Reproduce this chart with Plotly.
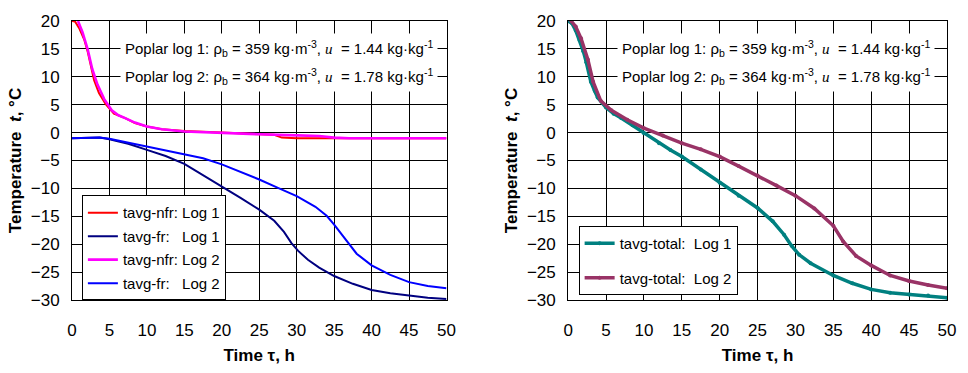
import plotly.graph_objects as go
from plotly.subplots import make_subplots

# Left panel: non-frozen (nfr) and frozen (fr) zone average temperatures
t_nfr1 = [0, 0.4, 1.0, 1.65, 2.1, 2.5, 2.95, 3.6, 4.5, 5.6, 7.1, 8.4, 10, 12, 15, 20, 25, 27, 28, 30, 35, 40, 45, 50]
T_nfr1 = [20, 19.9, 18.6, 16.6, 14.5, 12.0, 9.4, 7.1, 5.1, 3.4, 2.6, 1.7, 1.1, 0.6, 0.3, 0.0, -0.2, -0.4, -0.9, -1.0, -1.0, -1.0, -1.0, -1.0]

t_fr1 = [0, 2, 3.7, 5, 7.5, 10, 12.5, 15, 17.5, 20, 22.5, 25, 27, 28.3, 29.3, 30.2, 31.5, 33, 35, 37.5, 40, 42.5, 45, 47.5, 50]
T_fr1 = [-1.0, -1.0, -0.9, -1.2, -2.0, -3.1, -4.2, -5.6, -7.6, -9.7, -11.7, -13.8, -15.8, -17.8, -19.8, -21.2, -22.8, -24.2, -25.7, -27.1, -28.2, -28.8, -29.2, -29.6, -29.8]

t_nfr2 = [0.8, 1.4, 2.1, 2.7, 3.4, 4.3, 5.3, 6.2, 7.1, 8.4, 10, 12, 15, 20, 25, 30, 33, 35, 37, 40, 45, 50]
T_nfr2 = [20, 18.0, 14.9, 11.4, 8.6, 6.0, 4.0, 3.1, 2.6, 1.8, 1.1, 0.6, 0.2, -0.1, -0.3, -0.5, -0.6, -0.9, -1.0, -1.0, -1.0, -1.0]

t_fr2 = [0, 3.7, 5, 7.5, 10, 12.5, 15, 17.5, 20, 22.5, 25, 27.5, 30, 32.5, 34, 35, 36, 37, 38, 40, 42.5, 45, 47.5, 50]
T_fr2 = [-1.0, -0.9, -1.1, -1.8, -2.4, -3.1, -3.8, -4.6, -5.7, -7.0, -8.4, -9.9, -11.4, -13.3, -14.9, -16.5, -18.2, -20.0, -21.7, -23.8, -25.5, -26.8, -27.5, -27.9]

# Right panel: whole-log average temperatures
t_tot1 = [0, 0.5, 1, 1.5, 2, 2.4, 3, 3.5, 3.9, 5, 6, 7, 8.5, 10, 12, 13.5, 15, 17.5, 20, 22.5, 25, 27, 28.5, 29.5, 30.5, 32, 35, 37.5, 40, 42.5, 45, 47.5, 50]
T_tot1 = [20, 19.6, 18.3, 16.6, 14.6, 12.6, 9.1, 7.5, 6.3, 4.5, 3.4, 2.6, 1.3, -0.1, -1.9, -3.1, -4.3, -6.6, -9.0, -11.3, -13.5, -15.9, -18.3, -20.3, -21.9, -23.4, -25.6, -27.0, -28.1, -28.7, -29.0, -29.2, -29.6]

t_tot2 = [0.4, 1, 1.7, 2.6, 3.3, 4.3, 5.7, 7.8, 10, 12.5, 15, 17.5, 20, 22.5, 25, 27.5, 30, 32.5, 35, 36.3, 38, 40, 42.5, 45, 47.5, 50]
T_tot2 = [20, 19.0, 16.9, 13.1, 9.1, 5.7, 4.0, 2.3, 0.8, -0.5, -1.9, -3.0, -4.3, -6.0, -7.7, -9.5, -11.3, -13.6, -16.7, -19.5, -22.1, -23.8, -25.6, -26.6, -27.3, -27.9]

x_ticks = [0, 5, 10, 15, 20, 25, 30, 35, 40, 45, 50]
y_ticks = [20, 15, 10, 5, 0, -5, -10, -15, -20, -25, -30]

info_lines = [
    "Poplar log 1: ρ<sub>b</sub> = 359 kg·m<sup>-3</sup>, "
    "<span style=\"font-family:'Liberation Serif'\"><i>u</i></span>  = 1.44 kg·kg<sup>-1</sup>",
    "Poplar log 2: ρ<sub>b</sub> = 364 kg·m<sup>-3</sup>, "
    "<span style=\"font-family:'Liberation Serif'\"><i>u</i></span>  = 1.78 kg·kg<sup>-1</sup>",
]

FONT = "Liberation Sans, Arial, sans-serif"
NB = "\u00a0"

fig = make_subplots(rows=1, cols=2, horizontal_spacing=0.1)

left_series = [
    ("tavg-nfr: Log 1", t_nfr1, T_nfr1, "#FF0000", 2),
    ("tavg-fr:" + NB * 3 + "Log 1", t_fr1, T_fr1, "#000080", 2),
    ("tavg-nfr: Log 2", t_nfr2, T_nfr2, "#FF00FF", 2.6),
    ("tavg-fr:" + NB * 3 + "Log 2", t_fr2, T_fr2, "#0000FF", 2),
]
for i, (name, tx, ty, col, w) in enumerate(left_series):
    fig.add_trace(go.Scatter(x=tx, y=ty, name=name, mode="lines",
                             line=dict(color=col, width=w),
                             legend="legend", legendgroup=f"l{i}"),
                  row=1, col=1)

right_series = [
    ("tavg-total:" + NB + " Log 1", t_tot1, T_tot1, "#008080"),
    ("tavg-total:" + NB + " Log 2", t_tot2, T_tot2, "#993366"),
]
for i, (name, tx, ty, col) in enumerate(right_series):
    fig.add_trace(go.Scatter(x=tx, y=ty, name=name, mode="lines+markers",
                             line=dict(color=col, width=3.5),
                             marker=dict(color=col, size=4),
                             legend="legend2", legendgroup=f"r{i}"),
                  row=1, col=2)

axis_common = dict(
    showline=True, linecolor="black", linewidth=1, mirror=True,
    showgrid=True, gridcolor="black", gridwidth=1, zeroline=False,
    ticks="", tickfont=dict(family=FONT, size=17, color="black"),
)
for c in (1, 2):
    fig.update_xaxes(range=[0, 50], tickvals=x_ticks, ticklabelstandoff=15,
                     title=dict(text="<b>Time τ, h</b>", standoff=9,
                                font=dict(family=FONT, size=17, color="black")),
                     row=1, col=c, **axis_common)
    fig.update_yaxes(range=[-30, 20], tickvals=y_ticks, ticklabelstandoff=8,
                     title=dict(text="<b>Temperature" + NB + NB + "<i>t</i>, °C</b>", standoff=4,
                                font=dict(family=FONT, size=17, color="black")),
                     row=1, col=c, **axis_common)

fig.update_layout(
    width=968, height=373,
    margin=dict(l=72, r=13, t=13, b=69),
    paper_bgcolor="white", plot_bgcolor="white",
    font=dict(family=FONT, color="black"),
    xaxis=dict(domain=[0, 0.428]),
    xaxis2=dict(domain=[0.567, 1.0]),
    legend=dict(x=0.0113, y=0.375, xanchor="left", yanchor="top",
                bgcolor="white", bordercolor="black", borderwidth=1,
                font=dict(family=FONT, size=15, color="black"),
                tracegroupgap=1, itemwidth=30),
    legend2=dict(x=0.579, y=0.265, xanchor="left", yanchor="top",
                 bgcolor="white", bordercolor="black", borderwidth=1,
                 font=dict(family=FONT, size=15, color="black"),
                 tracegroupgap=12, itemwidth=30),
)

# Sample description boxes drawn over the grid in each panel
for xr, yr, xc in (("x", "y", 27.6), ("x2", "y2", 27.4)):
    for text, yv in zip(info_lines, (15, 10)):
        fig.add_annotation(x=xc, y=yv, xref=xr, yref=yr, text=text,
                           showarrow=False, bgcolor="white", borderpad=4,
                           font=dict(family=FONT, size=15, color="black"))

fig.write_html("out.html")
